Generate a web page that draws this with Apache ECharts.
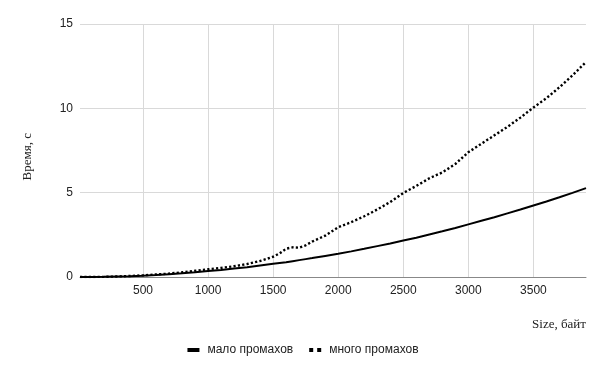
<!DOCTYPE html>
<html>
<head>
<meta charset="utf-8">
<script src="https://cdn.jsdelivr.net/npm/echarts@6/dist/echarts.min.js"></script>
<style>html,body{margin:0;padding:0;background:#fff}#c{width:606px;height:375px}</style>
</head>
<body>
<div id="c"></div>
<script>
const sizes = [16,100,200,300,400,500,600,700,800,900,1000,1100,1200,1300,1400,1500,1550,1600,1650,1700,1750,1800,1900,2000,2100,2200,2300,2400,2500,2600,2700,2800,2900,3000,3100,3200,3300,3400,3500,3600,3700,3800,3904];
const fewMisses = [0,0,0.01,0.03,0.05,0.08,0.12,0.17,0.22,0.28,0.35,0.42,0.5,0.58,0.68,0.78,0.83,0.88,0.94,1.0,1.06,1.12,1.25,1.38,1.52,1.67,1.83,1.99,2.16,2.33,2.52,2.71,2.91,3.12,3.33,3.54,3.77,4.0,4.24,4.48,4.73,4.99,5.27];
const manyMisses = [0,0,0.01,0.03,0.06,0.1,0.15,0.2,0.28,0.37,0.46,0.54,0.64,0.77,0.95,1.2,1.4,1.68,1.76,1.74,1.88,2.1,2.45,2.95,3.25,3.6,4.0,4.45,4.98,5.4,5.85,6.2,6.7,7.4,7.9,8.4,8.9,9.45,10.05,10.6,11.25,11.95,12.75];
const xTicks = [500,1000,1500,2000,2500,3000,3500];
const seriesNames = ['мало промахов','много промахов'];
const yTitle = 'Время, с';
const xTitle = 'Size, байт';

const chart = echarts.init(document.getElementById('c'), null, {renderer:'canvas'});
const pair = (ys) => sizes.map((x,i)=>[x, ys[i]]);
chart.setOption({
  animation:false,
  backgroundColor:'#fff',
  textStyle:{fontFamily:'Liberation Sans'},
  grid:{left:80,right:20,top:24,bottom:98},
  xAxis:{
    type:'value', min:16, max:3904,
    axisLine:{show:true,lineStyle:{color:'#888',width:1}},
    axisTick:{show:false, customValues:xTicks},
    axisLabel:{customValues:xTicks,color:'#222',fontSize:12,margin:8,formatter:(v)=>String(v)},
    splitLine:{show:true,lineStyle:{color:'#d9d9d9',width:1}}
  },
  yAxis:{
    type:'value', min:0, max:15, interval:5,
    axisLine:{show:false}, axisTick:{show:false},
    axisLabel:{color:'#222',fontSize:12,margin:7},
    splitLine:{show:true,lineStyle:{color:'#d9d9d9',width:1}}
  },
  legend:{
    bottom:14, left:'center',
    itemWidth:12, itemHeight:4, itemGap:16,
    textStyle:{color:'#222',fontSize:12,padding:[0,0,0,3]},
    data:[
      {name:seriesNames[0], icon:'rect'},
      {name:seriesNames[1], icon:'path://M0,0h4v4h-4z M8,0h4v4h-4z'}
    ]
  },
  graphic:[
    {type:'text', left:21, top:133, rotation:Math.PI/2, style:{text:yTitle, font:'13px "Liberation Serif"', fill:'#222'}},
    {type:'text', right:20, top:318, style:{text:xTitle, font:'13px "Liberation Serif"', fill:'#222'}}
  ],
  series:[
    {name:seriesNames[0], type:'line', data:pair(fewMisses), showSymbol:false, symbol:'none',
     lineStyle:{color:'#000',width:2}, itemStyle:{color:'#000'}},
    {name:seriesNames[1], type:'line', data:pair(manyMisses), showSymbol:false, symbol:'none',
     lineStyle:{color:'#000',width:2.4,type:[2.2,2.2]}, itemStyle:{color:'#000'}}
  ]
});
</script>
</body>
</html>
